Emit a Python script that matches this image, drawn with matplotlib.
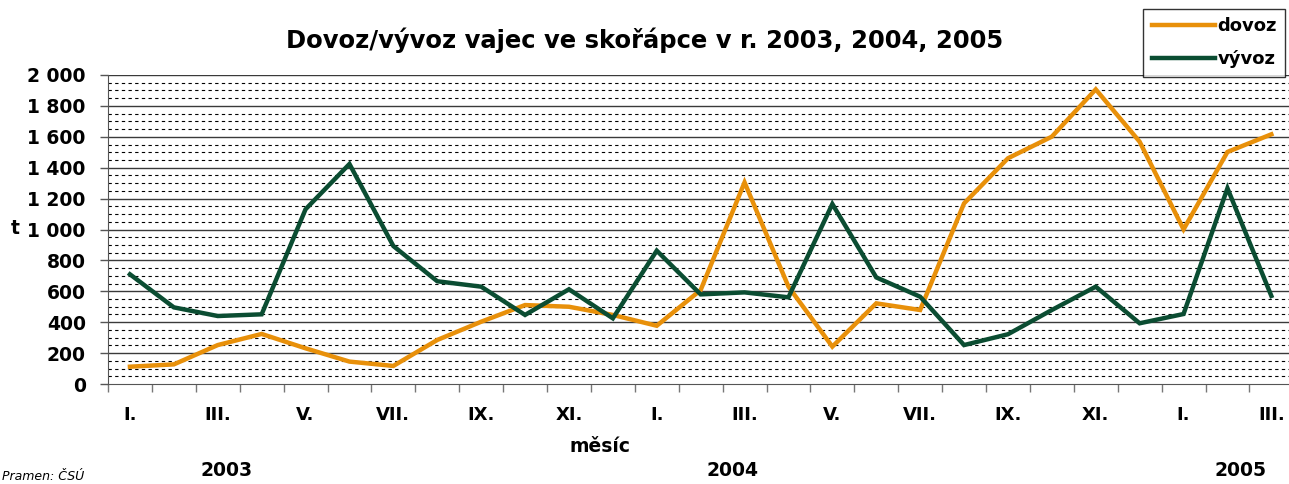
import numpy as np
import matplotlib
matplotlib.use("Agg")
from matplotlib import pyplot as plt
from matplotlib.ticker import MultipleLocator, FuncFormatter
from matplotlib.lines import Line2D

# monthly data, 2003 I. - 2005 III. (t)
dovoz = [112, 127, 252, 324, 231, 145, 117, 285, 403, 511, 500, 447,
         377, 608, 1305, 630, 242, 522, 479, 1169, 1461, 1601, 1907, 1568,
         1001, 1502, 1616]
vyvoz = [710, 496, 440, 451, 1131, 1424, 893, 665, 630, 447, 613, 425,
         863, 580, 593, 561, 1165, 690, 565, 252, 322, 479, 630, 393,
         453, 1267, 570]
month_labels = ["I.", "III.", "V.", "VII.", "IX.", "XI."]
years = ["2003", "2004", "2005"]

c_dovoz = "#E8900A"
c_vyvoz = "#0B4D32"

n = len(dovoz)
x = np.arange(n)

fig = plt.figure(figsize=(12.89, 4.84), dpi=100)
ax = fig.add_axes([108/1289, 1 - 384/484, (27*43.9)/1289, 309/484])

ax.plot(x, dovoz, color=c_dovoz, lw=3.2, solid_joinstyle="miter", zorder=3)
ax.plot(x, vyvoz, color=c_vyvoz, lw=3.2, solid_joinstyle="miter", zorder=3)

ax.set_xlim(-0.5, n - 0.5)
ax.set_ylim(0, 2000)

# grid: solid at 200, dashed at 50
ax.yaxis.set_major_locator(MultipleLocator(200))
ax.yaxis.set_minor_locator(MultipleLocator(50))
for v in np.arange(50, 2001, 50):
    if v % 200 == 0:
        ax.axhline(v, color="#3a3a3a", lw=1.0, zorder=1)
    else:
        ax.axhline(v, color="black", lw=0.8, ls=(0, (3, 3)), zorder=1)

ax.yaxis.set_major_formatter(
    FuncFormatter(lambda v, p: "{:,.0f}".format(v).replace(",", " ")))
ax.tick_params(axis="y", which="major", length=6, width=1, color="#555555",
               labelsize=13.5, pad=10)
ax.tick_params(axis="y", which="minor", length=0)
for lab in ax.get_yticklabels():
    lab.set_fontweight("bold")

# x ticks on category boundaries, labels every other month
ax.set_xticks(np.arange(-0.5, n, 1.0))
ax.set_xticklabels([])
ax.tick_params(axis="x", length=6, width=1, color="#777777")
labs = (month_labels * 3)[:14]
for i, lab in enumerate(labs):
    ax.text(2 * i, -0.1, lab, transform=ax.get_xaxis_transform(),
            ha="center", va="center", fontsize=13, fontweight="bold")

for s in ["top", "right"]:
    ax.spines[s].set_visible(False)
ax.spines["left"].set_color("#555555")
ax.spines["bottom"].set_color("#555555")

fig.text(15/1289, 1 - 229/484, "t", ha="center", va="center", fontsize=13.5,
         fontweight="bold")
fig.text(600/1289, 1 - 446/484, "měsíc", ha="center", va="center",
         fontsize=13.5, fontweight="bold")
for yr, px in zip(years, [227, 733, 1240]):
    fig.text(px/1289, 1 - 471/484, yr, ha="center", va="center",
             fontsize=13.5, fontweight="bold")
fig.text(2/1289, 1 - 477/484, "Pramen: ČSÚ", ha="left", va="center",
         fontsize=9, style="italic")

fig.text(645/1289, 1 - 40/484, "Dovoz/vývoz vajec ve skořápce v r. 2003, 2004, 2005",
         ha="center", va="center", fontsize=17.5, fontweight="bold")

handles = [Line2D([], [], color=c_dovoz, lw=3.2),
           Line2D([], [], color=c_vyvoz, lw=3.2)]
leg = fig.legend(handles, ["dovoz", "vývoz"], loc="upper right",
                 bbox_to_anchor=(1.004, 1.0), frameon=True, fancybox=False,
                 edgecolor="black", handlelength=3.5, handletextpad=0.15,
                 borderpad=0.45, labelspacing=0.85,
                 prop={"weight": "bold", "size": 13})
leg.get_frame().set_linewidth(1.0)

fig.savefig("out.png", dpi=100)
